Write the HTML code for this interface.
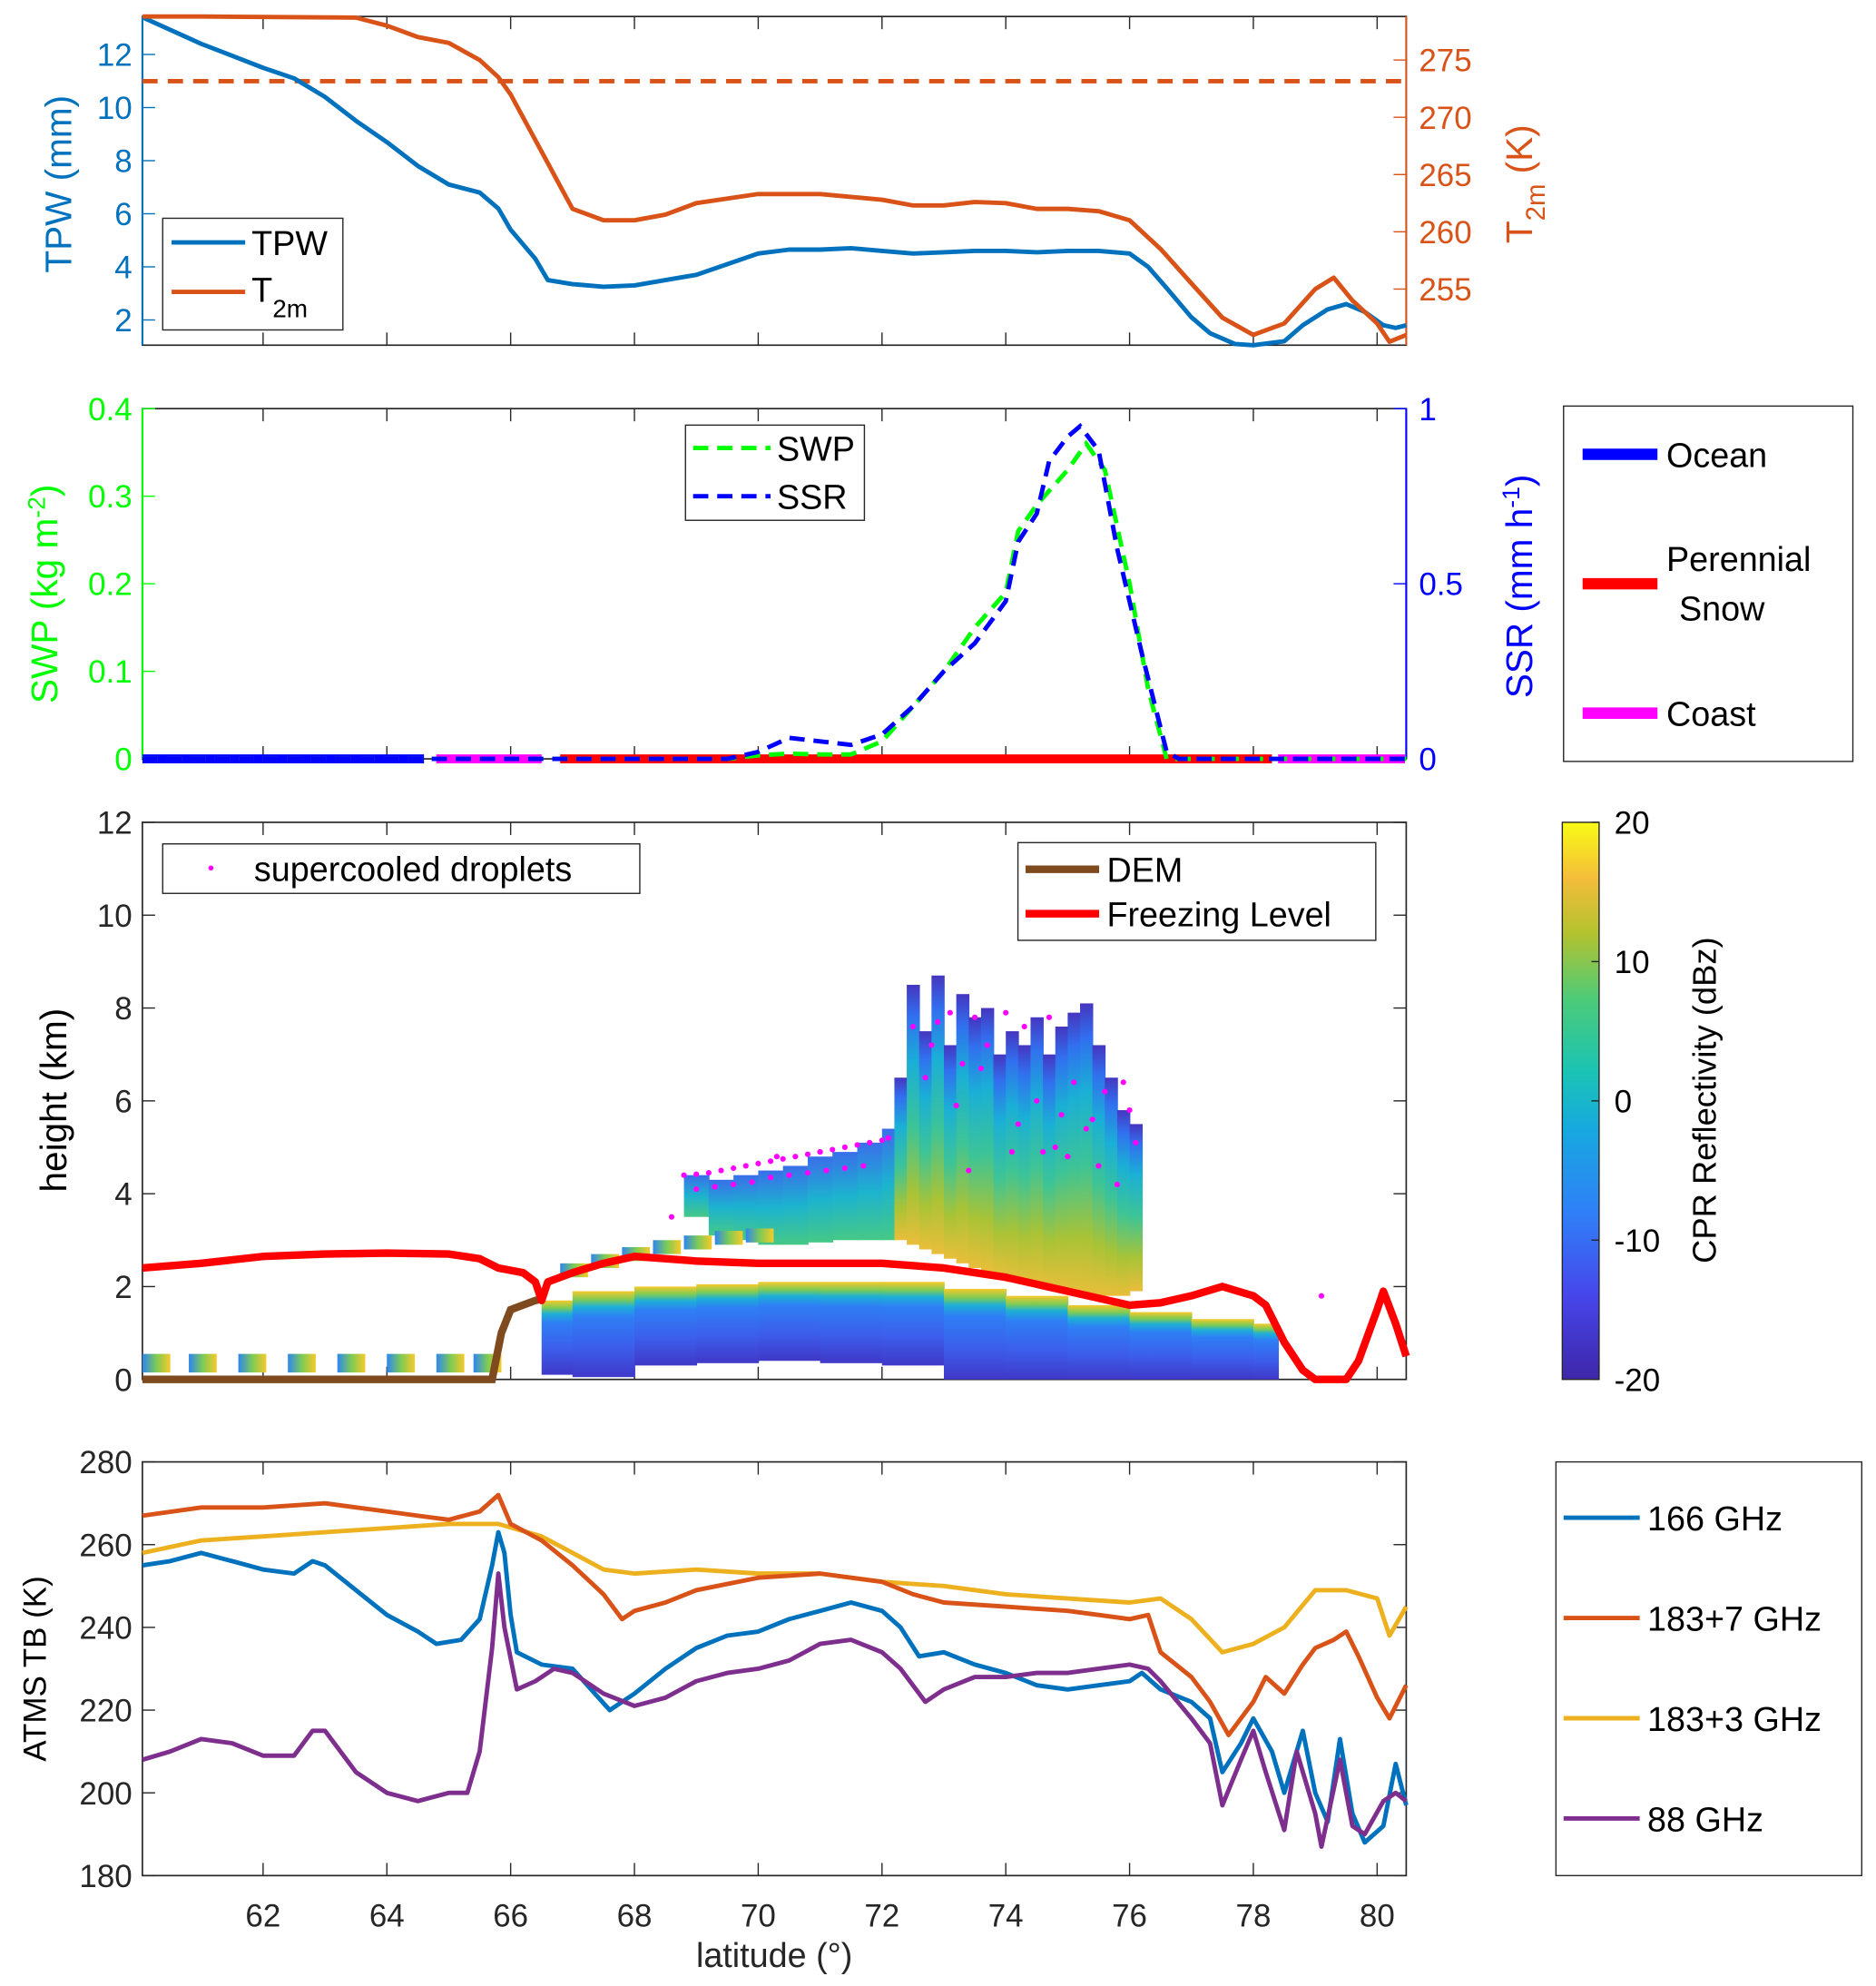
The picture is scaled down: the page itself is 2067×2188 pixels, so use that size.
<!DOCTYPE html>
<html><head><meta charset="utf-8"><style>
html,body{margin:0;padding:0;background:#fff;}
svg{display:block;font-family:"Liberation Sans","DejaVu Sans",sans-serif;}
</style></head><body>
<svg id="fig" xmlns="http://www.w3.org/2000/svg" width="2067" height="2188" viewBox="0 0 1478 1565">
<defs>
<linearGradient id="parula" x1="0" y1="1" x2="0" y2="0">
<stop offset="0" stop-color="#3E26A8"/><stop offset="0.15" stop-color="#4746EB"/><stop offset="0.3" stop-color="#2F80F8"/><stop offset="0.45" stop-color="#17A9DF"/><stop offset="0.55" stop-color="#1AC3B5"/><stop offset="0.68" stop-color="#4BCB7A"/><stop offset="0.8" stop-color="#B3C22F"/><stop offset="0.9" stop-color="#F4BD3A"/><stop offset="1" stop-color="#F9FB15"/>
</linearGradient>
<linearGradient id="conv" x1="0" y1="1" x2="0" y2="0">
<stop offset="0" stop-color="#E9BE3A"/><stop offset="0.2" stop-color="#A9C336"/><stop offset="0.45" stop-color="#3CC497"/><stop offset="0.7" stop-color="#1AAFD6"/><stop offset="0.88" stop-color="#3170EF"/><stop offset="1" stop-color="#4536C0"/>
</linearGradient>
<linearGradient id="strat" x1="0" y1="1" x2="0" y2="0">
<stop offset="0" stop-color="#45C886"/><stop offset="0.5" stop-color="#1CB3CF"/><stop offset="1" stop-color="#3A6FEA"/>
</linearGradient>
<linearGradient id="band" x1="0" y1="1" x2="0" y2="0">
<stop offset="0" stop-color="#4038C8"/><stop offset="0.35" stop-color="#3C5EEB"/><stop offset="0.7" stop-color="#2E7FF5"/><stop offset="0.82" stop-color="#1DB0D6"/><stop offset="0.9" stop-color="#7CCB55"/><stop offset="1" stop-color="#F7C92A"/>
</linearGradient>
<linearGradient id="thin" x1="0" y1="0" x2="1" y2="0">
<stop offset="0" stop-color="#2E86F0"/><stop offset="0.5" stop-color="#7CCB55"/><stop offset="1" stop-color="#F7C92A"/>
</linearGradient>
</defs>
<g id="root"></g>
</svg>
<script>
// ---------- data ----------
const tpwLat=[60.05,61,62,62.5,63,63.5,64,64.5,65,65.5,65.8,66,66.4,66.6,67,67.5,68,68.5,69,69.5,70,70.5,71,71.5,72,72.5,73,73.5,74,74.5,75,75.5,76,76.3,76.6,77,77.3,77.7,78,78.5,78.8,79.2,79.5,79.8,80.1,80.3,80.47];
const tpwVal=[13.4,12.4,11.5,11.1,10.4,9.5,8.7,7.8,7.1,6.8,6.2,5.4,4.3,3.5,3.35,3.25,3.3,3.5,3.7,4.1,4.5,4.65,4.65,4.7,4.6,4.5,4.55,4.6,4.6,4.55,4.6,4.6,4.5,4.0,3.2,2.1,1.5,1.1,1.05,1.2,1.8,2.4,2.6,2.3,1.8,1.7,1.8];
const t2mLat=[60.05,61,63.5,64,64.5,65,65.5,65.8,66,66.3,66.6,66.8,67,67.5,68,68.5,69,70,71,72,72.5,73,73.5,74,74.5,75,75.5,76,76.5,77,77.5,78,78.5,79,79.3,79.6,80,80.2,80.47];
const t2mVal=[278.8,278.8,278.7,278,277,276.5,275,273.5,272,269,266,264,262,261,261,261.5,262.5,263.3,263.3,262.8,262.3,262.3,262.6,262.5,262,262,261.8,261,258.5,255.5,252.5,251,252,255,256,254,252,250.4,251];
const freezeK=[273.15];
const swpLat=[60.05,69.5,70,70.5,71,71.5,72,72.5,73,73.5,74,74.2,74.5,75,75.3,75.6,76,76.3,76.6,80.47];
const swpVal=[0,0,0.004,0.006,0.005,0.005,0.02,0.06,0.1,0.15,0.19,0.26,0.29,0.33,0.36,0.33,0.2,0.08,0,0];
const ssrLat=[60.05,69.5,70,70.5,71,71.5,72,72.5,73,73.5,74,74.2,74.5,74.7,75,75.2,75.5,75.8,76.2,76.6,76.8,80.47];
const ssrVal=[0,0,0.02,0.06,0.05,0.04,0.07,0.15,0.25,0.33,0.45,0.62,0.7,0.85,0.92,0.95,0.88,0.6,0.3,0.02,0,0];
const surfStart=[60.05,64.8,66.8,78.4];
const surfEnd=[64.6,66.5,78.3,80.45];
const surfType=["Ocean","Coast","Perennial Snow","Coast"];
const fzLat=[60.05,61,62,63,64,65,65.5,65.8,66.2,66.4,66.5,66.6,67,67.5,68,69,70,72,73,74,75,76,76.5,77,77.5,78,78.2,78.5,78.8,79,79.5,79.7,80,80.1,80.3,80.47];
const fzVal=[2.4,2.5,2.65,2.7,2.72,2.7,2.6,2.4,2.3,2.1,1.7,2.1,2.3,2.5,2.65,2.55,2.5,2.5,2.4,2.2,1.9,1.6,1.65,1.8,2.0,1.8,1.6,0.8,0.2,0,0,0.4,1.5,1.9,1.2,0.5];
const demLat=[60.05,65.7,65.85,66,66.4,66.55];
const demVal=[0,0,1.0,1.5,1.7,1.75];
const convLat=[72.2,72.4,72.6,72.8,73,73.2,73.4,73.6,73.8,74,74.2,74.4,74.6,74.8,75,75.2,75.4,75.6,75.8,76,76.2];
const convTop=[6.5,8.5,7.5,8.7,7.2,8.3,7.8,8.0,7.0,7.5,7.2,7.8,7.0,7.6,7.9,8.1,7.2,6.5,5.8,5.5,5.0];
const convBase=[3.0,2.9,2.8,2.7,2.6,2.5,2.4,2.3,2.2,2.1,2.05,2.0,1.95,1.9,1.85,1.8,1.8,1.8,1.8,1.9,2.0];
const stratLat=[68.8,69.2,69.6,70,70.4,70.8,71.2,71.6,72,72.2];
const stratTop=[4.4,4.3,4.4,4.5,4.6,4.8,4.9,5.1,5.4,5.5];
const stratBase=[3.5,3.1,3.0,2.9,2.9,2.95,3.0,3.0,3.0,3.0];
const bandLat=[66.5,67,68,69,70,71,72,73,74,75,76,77,78,78.4];
const bandTop=[1.7,1.9,2.0,2.05,2.1,2.1,2.1,1.95,1.8,1.6,1.45,1.3,1.2,0.8];
const bandBase=[0.1,0.05,0.3,0.35,0.4,0.35,0.3,0,0,0,0,0,0,0];
const thinLat=[66.8,67.3,67.8,68.3,68.8,69.3,69.8];
const thinHgt=[2.25,2.45,2.6,2.75,2.85,2.95,3.0];
const sclLat=[60.05,60.8,61.6,62.4,63.2,64.0,64.8,65.4];
const scdLat=[68.8,69.0,69.2,69.4,69.6,69.8,70.0,70.2,70.4,70.6,70.8,71.0,71.2,71.4,71.6,71.8,72.0,72.1,69.0,69.3,69.6,69.9,70.2,70.5,70.8,71.1,71.4,71.7,68.6,70.3,71.0,72.5,72.7,72.9,73.1,73.3,73.5,73.7,74.0,74.3,74.5,74.7,74.9,75.1,75.3,75.6,75.9,76.0,72.8,73.2,73.6,74.2,74.6,75.0,75.4,75.8,73.4,74.1,74.8,75.5,76.1,79.1];
const scdHgt=[4.4,4.42,4.45,4.5,4.55,4.6,4.65,4.7,4.75,4.8,4.85,4.9,4.95,5.0,5.05,5.1,5.15,5.2,4.1,4.15,4.2,4.25,4.35,4.4,4.45,4.5,4.55,4.6,3.5,4.8,4.9,7.6,6.5,7.7,7.9,6.8,7.8,7.2,7.9,7.6,6.0,7.8,5.7,6.4,5.4,6.2,6.4,5.8,7.2,5.9,6.7,5.5,4.9,4.8,5.6,4.2,4.5,4.9,5.0,4.6,5.1,1.8];
const tbLat166=[60.05,60.5,61,61.5,62,62.5,62.8,63,63.5,64,64.5,64.8,65.2,65.5,65.7,65.8,65.9,66,66.1,66.5,67,67.3,67.6,68,68.5,69,69.5,70,70.5,71,71.5,72,72.3,72.6,73,73.5,74,74.5,75,75.5,76,76.2,76.5,77,77.3,77.5,77.8,78,78.3,78.5,78.8,79,79.2,79.4,79.6,79.8,80.1,80.3,80.47];
const tb166=[255,256,258,256,254,253,256,255,249,243,239,236,237,242,255,263,258,243,234,231,230,225,220,224,230,235,238,239,242,244,246,244,240,233,234,231,229,226,225,226,227,229,225,222,218,205,212,218,210,200,215,200,193,213,195,188,192,207,197];
const tbLat183=[60.05,61,62,63,64,64.5,65,65.5,65.8,66,66.5,67,67.5,67.8,68,68.5,69,70,71,72,72.5,73,74,75,75.5,76,76.3,76.5,77,77.3,77.6,78,78.2,78.5,78.8,79,79.3,79.5,79.7,80,80.2,80.47];
const tb183p7=[267,269,269,270,268,267,266,268,272,265,261,255,248,242,244,246,249,252,253,251,248,246,245,244,243,242,243,234,228,222,214,222,228,224,231,235,237,239,233,223,218,226];
const tbLat183b=[60.05,61,62,63,64,65,65.8,66.5,67,67.5,68,69,70,71,72,73,74,75,76,76.5,77,77.5,78,78.5,79,79.5,80,80.2,80.47];
const tb183p3=[258,261,262,263,264,265,265,262,258,254,253,254,253,253,251,250,248,247,246,247,242,234,236,240,249,249,247,238,245];
const tbLat88=[60.05,60.5,61,61.5,62,62.5,62.8,63,63.5,64,64.5,65,65.3,65.5,65.7,65.8,65.9,66.1,66.4,66.7,67,67.5,68,68.5,69,69.5,70,70.5,71,71.5,72,72.3,72.7,73,73.5,74,74.5,75,75.5,76,76.3,76.5,77,77.3,77.5,77.8,78,78.2,78.5,78.7,79,79.1,79.4,79.6,79.8,80.1,80.3,80.47];
const tb88=[208,210,213,212,209,209,215,215,205,200,198,200,200,210,235,253,240,225,227,230,229,224,221,223,227,229,230,232,236,237,234,230,222,225,228,228,229,229,230,231,230,227,218,212,197,208,215,205,191,210,195,187,208,192,190,198,200,198];
const latTicks=[62,64,66,68,70,72,74,76,78,80];
const tpwTicks=[2,4,6,8,10,12];
const t2mTicks=[255,260,265,270,275];
const swpTicks=[0,0.1,0.2,0.3,0.4];
const ssrTicks=[0,0.5,1];
const hTicks=[0,2,4,6,8,10,12];
const tbTicks=[180,200,220,240,260,280];
const cbTicks=[-20,-10,0,10,20];

// ---------- helpers ----------
const NS="http://www.w3.org/2000/svg";
const root=document.getElementById('root');
function mk(tag,attrs,parent){const e=document.createElementNS(NS,tag);for(const k in attrs)e.setAttribute(k,attrs[k]);(parent||root).appendChild(e);return e;}
const X0=112,X1=1108,LMIN=60.05,LMAX=80.47;
function xs(l){return X0+(l-LMIN)/(LMAX-LMIN)*(X1-X0);}
function lin(d0,d1,r0,r1){return v=>r0+(v-d0)/(d1-d0)*(r1-r0);}
function pathOf(lats,vals,ys){return lats.map((l,i)=>(i?'L':'M')+xs(l).toFixed(1)+','+ys(vals[i]).toFixed(1)).join('');}
function txt(s,x,y,size,fill,anchor,parent){const t=mk('text',{x:x,y:y,'font-size':size,fill:fill,'text-anchor':anchor||'start'},parent);t.textContent=s;return t;}
const TF=25;

function panelFrame(y0,y1,name,topTicks){
  const g=mk('g',{});
  
  
  mk('rect',{x:X0,y:y0,width:X1-X0,height:y1-y0,fill:'none',stroke:'#262626','stroke-width':1.2},g);
  latTicks.forEach(l=>{const x=xs(l);mk('line',{x1:x,x2:x,y1:y1,y2:y1-10,stroke:'#262626','stroke-width':1},g);if(topTicks)mk('line',{x1:x,x2:x,y1:y0,y2:y0+10,stroke:'#262626','stroke-width':1},g);});
  return g;
}

// ---------- Panel 1 ----------
const p1y0=13,p1y1=272;
const yTpw=lin(1.05,13.43,p1y1,p1y0), yT2m=lin(250.1,278.8,p1y1,p1y0);
const g1=panelFrame(p1y0,p1y1,'tpw-t2m-panel',true);
mk('line',{x1:X0,x2:X0,y1:p1y0,y2:p1y1,stroke:'#0072BD','stroke-width':1.5},g1);
mk('line',{x1:X1,x2:X1,y1:p1y0,y2:p1y1,stroke:'#D95319','stroke-width':1.5},g1);
tpwTicks.forEach(v=>{const y=yTpw(v);mk('line',{x1:X0,x2:X0+10,y1:y,y2:y,stroke:'#0072BD'},g1);txt(v,X0-8,y+9,TF,'#0072BD','end',g1);});
t2mTicks.forEach(v=>{const y=yT2m(v);mk('line',{x1:X1,x2:X1-10,y1:y,y2:y,stroke:'#D95319'},g1);txt(v,X1+10,y+9,TF,'#D95319','start',g1);});
const tpwTitle=txt('TPW (mm)',0,0,29,'#0072BD','middle',g1);tpwTitle.setAttribute('transform','translate(56,145) rotate(-90)');

const t2t=mk('text',{transform:'translate(1207,145) rotate(-90)','font-size':29,fill:'#D95319','text-anchor':'middle'},g1);
t2t.innerHTML='T<tspan font-size="21" dy="10">2m</tspan><tspan dy="-10"> (K)</tspan>';

const fzl=mk('line',{x1:X0,x2:X1,y1:yT2m(freezeK[0]),y2:yT2m(freezeK[0]),stroke:'#D95319','stroke-width':3.5,'stroke-dasharray':'12 8'},g1);

const tpwL=mk('path',{d:pathOf(tpwLat,tpwVal,yTpw),fill:'none',stroke:'#0072BD','stroke-width':3.5,'stroke-linejoin':'round'},g1);

const t2mL=mk('path',{d:pathOf(t2mLat,t2mVal,yT2m),fill:'none',stroke:'#D95319','stroke-width':3.5,'stroke-linejoin':'round'},g1);

const lg1=mk('g',{},g1);
mk('rect',{x:128,y:172,width:142,height:88,fill:'#fff',stroke:'#262626'},lg1);
mk('line',{x1:135,x2:193,y1:191,y2:191,stroke:'#0072BD','stroke-width':3.5},lg1);
mk('line',{x1:135,x2:193,y1:230,y2:230,stroke:'#D95319','stroke-width':3.5},lg1);
txt('TPW',198,201,27,'#000','start',lg1);
const lt=mk('text',{x:198,y:238,'font-size':27,fill:'#000'},lg1);lt.innerHTML='T<tspan font-size="20" dy="12">2m</tspan>';

// ---------- Panel 2 ----------
const p2y0=322,p2y1=598;
const ySwp=lin(0,0.4,p2y1,p2y0), ySsr=lin(0,1,p2y1,p2y0);
const g2=panelFrame(p2y0,p2y1,'swp-ssr-panel',true);
mk('line',{x1:X0,x2:X0,y1:p2y0,y2:p2y1,stroke:'#00FF00','stroke-width':1.5},g2);
mk('line',{x1:X1,x2:X1,y1:p2y0,y2:p2y1,stroke:'#0000FF','stroke-width':1.5},g2);
swpTicks.forEach(v=>{const y=ySwp(v);mk('line',{x1:X0,x2:X0+10,y1:y,y2:y,stroke:'#00FF00'},g2);txt(v,X0-8,y+9,TF,'#00FF00','end',g2);});
ssrTicks.forEach(v=>{const y=ySsr(v);mk('line',{x1:X1,x2:X1-10,y1:y,y2:y,stroke:'#0000FF'},g2);txt(v,X1+10,y+9,TF,'#0000FF','start',g2);});
const swt=mk('text',{transform:'translate(45,468) rotate(-90)','font-size':29,fill:'#00FF00','text-anchor':'middle'},g2);
swt.innerHTML='SWP (kg m<tspan font-size="19" dy="-10">-2</tspan><tspan dy="10">)</tspan>';

const sst=mk('text',{transform:'translate(1207,462) rotate(-90)','font-size':29,fill:'#0000FF','text-anchor':'middle'},g2);
sst.innerHTML='SSR (mm h<tspan font-size="19" dy="-10">-1</tspan><tspan dy="10">)</tspan>';

const surfColor={"Ocean":"#0000FF","Coast":"#FF00FF","Perennial Snow":"#FF0000"};
surfStart.forEach((s,i)=>{const r=mk('line',{x1:xs(s),x2:xs(surfEnd[i]),y1:ySwp(0),y2:ySwp(0),stroke:surfColor[surfType[i]],'stroke-width':7},g2);
 });
const swpL=mk('path',{d:pathOf(swpLat,swpVal,ySwp),fill:'none',stroke:'#00FF00','stroke-width':3.5,'stroke-dasharray':'12 7'},g2);

const ssrL=mk('path',{d:pathOf(ssrLat,ssrVal,ySsr),fill:'none',stroke:'#0000FF','stroke-width':3.5,'stroke-dasharray':'12 7'},g2);

const lg2=mk('g',{},g2);
mk('rect',{x:540,y:335,width:141,height:75,fill:'#fff',stroke:'#262626'},lg2);
mk('line',{x1:546,x2:607,y1:353,y2:353,stroke:'#00FF00','stroke-width':3.5,'stroke-dasharray':'12 7'},lg2);
mk('line',{x1:546,x2:607,y1:391,y2:391,stroke:'#0000FF','stroke-width':3.5,'stroke-dasharray':'12 7'},lg2);
txt('SWP',612,363,27,'#000','start',lg2);txt('SSR',612,401,27,'#000','start',lg2);
const lg3=mk('g',{});
mk('rect',{x:1232,y:320,width:228,height:280,fill:'#fff',stroke:'#262626'},lg3);
mk('line',{x1:1247,x2:1306,y1:358,y2:358,stroke:'#0000FF','stroke-width':9},lg3);
mk('line',{x1:1247,x2:1306,y1:460,y2:460,stroke:'#FF0000','stroke-width':9},lg3);
mk('line',{x1:1247,x2:1306,y1:562,y2:562,stroke:'#FF00FF','stroke-width':9},lg3);
txt('Ocean',1313,368,27,'#000','start',lg3);txt('Perennial',1313,450,27,'#000','start',lg3);txt('Snow',1323,489,27,'#000','start',lg3);txt('Coast',1313,572,27,'#000','start',lg3);

// ---------- Panel 3 ----------
const p3y0=648,p3y1=1087;
const yH=lin(0,12,p3y1,p3y0);
const g3=panelFrame(p3y0,p3y1,'radar-height-panel',true);
hTicks.forEach(v=>{const y=yH(v);mk('line',{x1:X0,x2:X0+10,y1:y,y2:y,stroke:'#262626'},g3);mk('line',{x1:X1,x2:X1-10,y1:y,y2:y,stroke:'#262626'},g3);txt(v,X0-8,y+9,TF,'#262626','end',g3);});
const ht=txt('height (km)',0,0,29,'#000','middle',g3);ht.setAttribute('transform','translate(52,867) rotate(-90)');

function columns(lats,tops,bases,fill,name){
  for(let i=0;i<lats.length-1;i++){
    const x=xs(lats[i]),w=xs(lats[i+1])-x;
    const r=mk('rect',{x:x,y:yH(tops[i]),width:w+0.6,height:yH(bases[i])-yH(tops[i]),fill:fill},g3);
    
    
  }
}
columns(bandLat,bandTop,bandBase,'url(#band)','reflectivity-lower-band');
columns(stratLat,stratTop,stratBase,'url(#strat)','reflectivity-stratiform');
columns(convLat,convTop,convBase,'url(#conv)','reflectivity-convective');
thinLat.forEach((l,i)=>{const r=mk('rect',{x:xs(l),y:yH(thinHgt[i]+0.25),width:xs(l+0.45)-xs(l),height:yH(0)-yH(0.3),fill:'url(#thin)'},g3);
 });
sclLat.forEach(l=>{const r=mk('rect',{x:xs(l),y:yH(0.55),width:22,height:yH(0.15)-yH(0.55),fill:'url(#thin)'},g3);
 });
scdLat.forEach((l,i)=>{const c=mk('circle',{cx:xs(l),cy:yH(scdHgt[i]),r:2.2,fill:'#FF00FF'},g3);
 });
const demL=mk('path',{d:pathOf(demLat,demVal,yH),fill:'none',stroke:'#7E4A1E','stroke-width':6},g3);

const fzL=mk('path',{d:pathOf(fzLat,fzVal,yH),fill:'none',stroke:'#FF0000','stroke-width':6,'stroke-linejoin':'round'},g3);

const lg4=mk('g',{},g3);
mk('rect',{x:128,y:665,width:376,height:39,fill:'#fff',stroke:'#262626'},lg4);
mk('circle',{cx:166,cy:684,r:2,fill:'#FF00FF'},lg4);
txt('supercooled droplets',200,694,27,'#000','start',lg4);
const lg5=mk('g',{},g3);
mk('rect',{x:802,y:664,width:282,height:77,fill:'#fff',stroke:'#262626'},lg5);
mk('line',{x1:808,x2:866,y1:685,y2:685,stroke:'#7E4A1E','stroke-width':6},lg5);
mk('line',{x1:808,x2:866,y1:720,y2:720,stroke:'#FF0000','stroke-width':6},lg5);
txt('DEM',872,695,27,'#000','start',lg5);txt('Freezing Level',872,730,27,'#000','start',lg5);
// colorbar
const cb=mk('g',{});
mk('rect',{x:1231,y:p3y0,width:29,height:p3y1-p3y0,fill:'url(#parula)',stroke:'#262626'},cb);
const yCb=lin(-20,20,p3y1,p3y0);
cbTicks.forEach(v=>{const y=yCb(v);mk('line',{x1:1254,x2:1260,y1:y,y2:y,stroke:'#262626'},cb);txt(v,1272,y+9,TF,'#000','start',cb);});
const cbt=txt('CPR Reflectivity (dBz)',0,0,26,'#000','middle',cb);cbt.setAttribute('transform','translate(1352,867) rotate(-90)');

// ---------- Panel 4 ----------
const p4y0=1152,p4y1=1478;
const yTb=lin(180,280,p4y1,p4y0);
const g4=panelFrame(p4y0,p4y1,'atms-tb-panel',true);
tbTicks.forEach(v=>{const y=yTb(v);mk('line',{x1:X0,x2:X0+10,y1:y,y2:y,stroke:'#262626'},g4);mk('line',{x1:X1,x2:X1-10,y1:y,y2:y,stroke:'#262626'},g4);txt(v,X0-8,y+9,TF,'#262626','end',g4);});
latTicks.forEach(l=>{const t=txt(l,xs(l),1518,TF,'#262626','middle',g4);});
const xt=txt('latitude (°)',610,1550,27,'#262626','middle',g4);
const tbt=txt('ATMS TB (K)',0,0,25,'#000','middle',g4);tbt.setAttribute('transform','translate(36,1315) rotate(-90)');

const series=[[tbLat183b,tb183p3,'#EDB120','tb-183p3-line'],[tbLat183,tb183p7,'#D95319','tb-183p7-line'],[tbLat166,tb166,'#0072BD','tb-166-line'],[tbLat88,tb88,'#7E2F8E','tb-88-line']];
series.forEach(s=>{const p=mk('path',{d:pathOf(s[0],s[1],yTb),fill:'none',stroke:s[2],'stroke-width':3.5,'stroke-linejoin':'round'},g4);
 });
const lg6=mk('g',{});
mk('rect',{x:1226,y:1152,width:241,height:326,fill:'#fff',stroke:'#262626'},lg6);
[['166 GHz','#0072BD',1196],['183+7 GHz','#D95319',1275],['183+3 GHz','#EDB120',1354],['88 GHz','#7E2F8E',1433]].forEach(e=>{
 mk('line',{x1:1232,x2:1292,y1:e[2],y2:e[2],stroke:e[1],'stroke-width':3.5},lg6);txt(e[0],1298,e[2]+10,27,'#000','start',lg6);});
</script>
</body></html>
